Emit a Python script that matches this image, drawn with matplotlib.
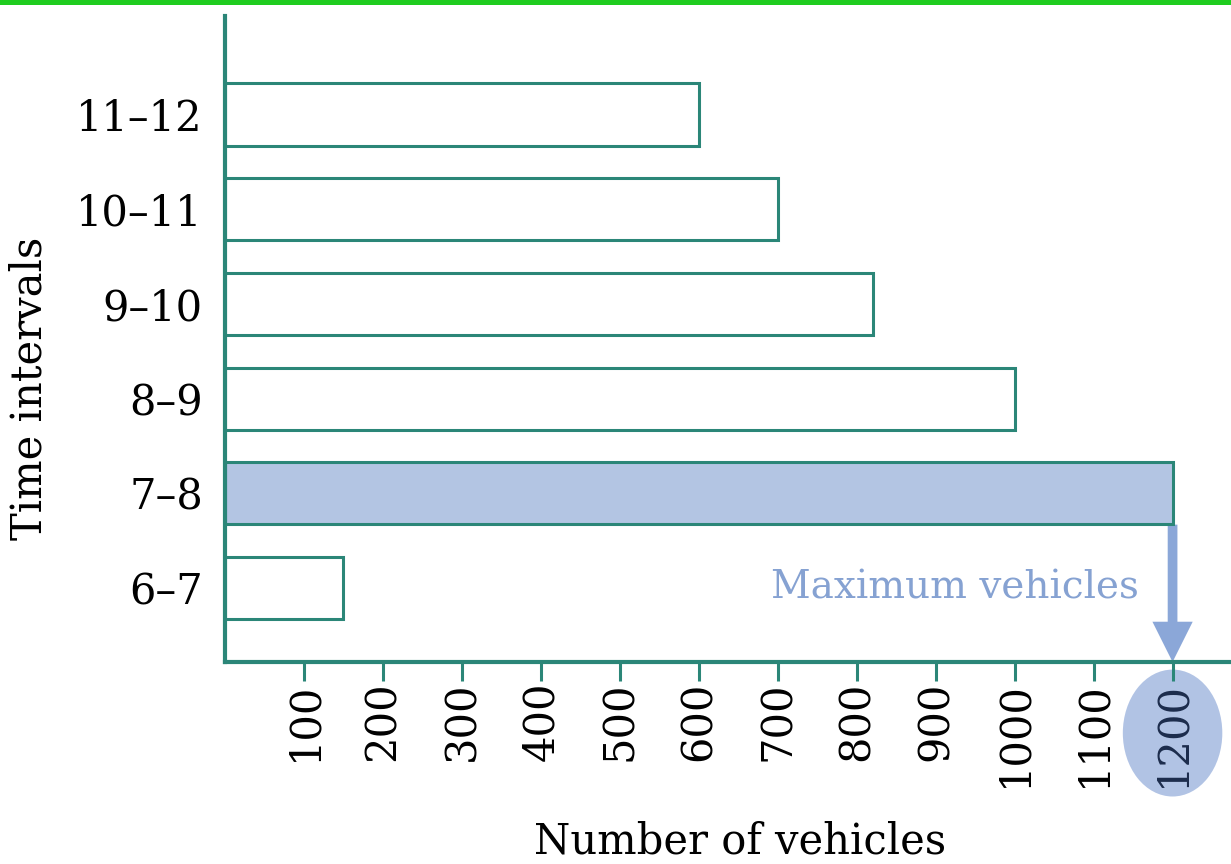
import matplotlib
matplotlib.use('Agg')
import matplotlib.pyplot as plt
from matplotlib.patches import Ellipse, Rectangle

# data
intervals = ['6\u20137', '7\u20138', '8\u20139', '9\u201310', '10\u201311', '11\u201312']
vehicles = [150, 1200, 1000, 820, 700, 600]
x_ticks = [100, 200, 300, 400, 500, 600, 700, 800, 900, 1000, 1100, 1200]
max_label = 'Maximum vehicles'

TEAL = '#2b8678'
BLUE_FILL = '#b3c5e3'
BLUE_TEXT = '#86a2d2'
ARROW_COLOR = '#8ba7d8'

plt.rcParams['font.family'] = ['DejaVu Serif']

fig = plt.figure(figsize=(12.31, 8.64), dpi=100)
ax = fig.add_axes([225 / 1231, 1 - 662 / 864, 1 - 225 / 1231, (662 - 16) / 864])

ypos = list(range(len(intervals)))
max_idx = vehicles.index(max(vehicles))
faces = [BLUE_FILL if i == max_idx else 'white' for i in ypos]
ax.barh(ypos, vehicles, height=0.655, color=faces, edgecolor=TEAL, linewidth=2.2, zorder=3)

ax.set_xlim(0, 1274)
ax.set_ylim(-0.78, 6.04)
ax.set_yticks(ypos)
ax.set_yticklabels(intervals, fontsize=30)
ax.set_xticks(x_ticks)
ax.set_xticklabels([str(v) for v in x_ticks], rotation=90, fontsize=30)
ax.get_xticklabels()[-1].set_color('#1c2c4c')

ax.tick_params(axis='y', length=0, pad=16)
ax.tick_params(axis='x', length=14, width=2.2, color=TEAL, pad=0, direction='out')

for s in ['top', 'right']:
    ax.spines[s].set_visible(False)
for s in ['left', 'bottom']:
    ax.spines[s].set_color(TEAL)
    ax.spines[s].set_linewidth(3)
    ax.spines[s].set_zorder(4)

# arrow from the tallest bar down to the axis
ax.annotate('', xy=(vehicles[max_idx], -0.78), xytext=(vehicles[max_idx], max_idx - 0.33),
            arrowprops=dict(facecolor=ARROW_COLOR, edgecolor='none', width=7,
                            headwidth=29, headlength=29, shrink=0), zorder=2,
            annotation_clip=False)
ax.text(vehicles[max_idx] - 43, 0.0, max_label, color=BLUE_TEXT, fontsize=28,
        ha='right', va='center', zorder=5)

# highlight of the 1200 tick label
ell = Ellipse((vehicles[max_idx], -1.53), width=126, height=1.34, facecolor='#a9bde2',
              edgecolor='none', alpha=0.9, clip_on=False, zorder=1)
ax.add_patch(ell)

fig.text(30 / 1231, 1 - 388 / 864, 'Time intervals', rotation=90, fontsize=30,
         ha='center', va='center')
fig.text(740 / 1231, 1 / 864, 'Number of vehicles', fontsize=30,
         ha='center', va='bottom')

# green strip at the top edge
fig.add_artist(Rectangle((0, 1 - 5 / 864), 1, 5 / 864, transform=fig.transFigure,
                         facecolor='#1fcc1f', edgecolor='none'))

fig.savefig('out.png', dpi=100)
